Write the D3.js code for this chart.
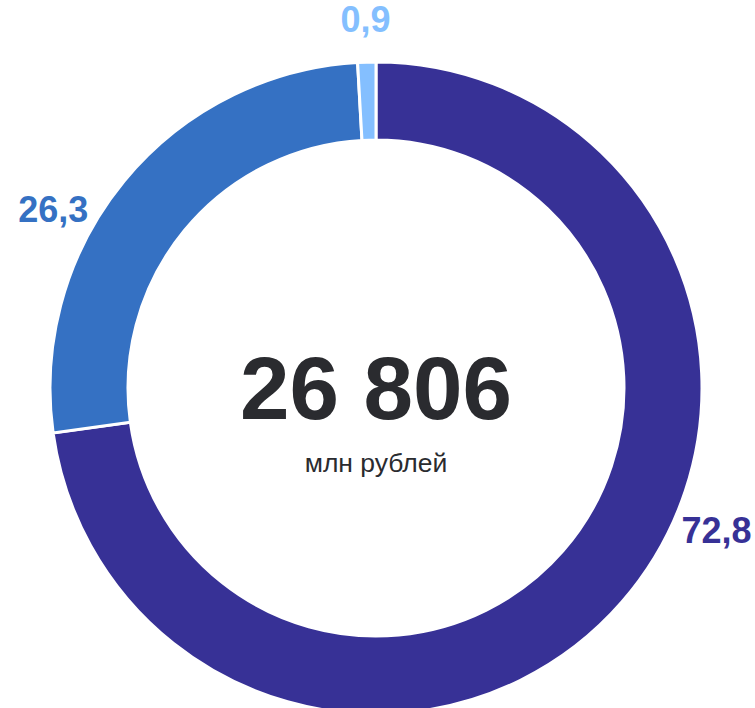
<!DOCTYPE html>
<html>
<head>
<meta charset="utf-8">
<script src="https://cdn.jsdelivr.net/npm/d3@7"></script>
<style>
  html, body { margin: 0; padding: 0; background: #fff; }
  svg { display: block; font-family: "Liberation Sans", Arial, sans-serif; }
</style>
</head>
<body>
<div id="chart"></div>
<script>
// shares, percent
let categories = ['a', 'b', 'c'];
let shares = [72.8, 26.3, 0.9];
let shareLabels = ['72,8', '26,3', '0,9'];
let colors = ['#373196', '#3571c3', '#84bfff'];

let totalText = '26 806';
let unitText = 'млн рублей';

let width = 755;
let height = 708;
let cx = 376;
let cy = 388;
let outerR = 326;
let innerR = 248;
let labelR = 369;
// where along each slice the label sits (0 = start, 1 = end)
let labelAt = [0.43, 0.39, 0.5];

let svg = d3.select('#chart')
    .append('svg')
    .attr('width', width)
    .attr('height', height);

let g = svg.append('g')
    .attr('transform', 'translate(' + cx + ',' + cy + ')');

let pie = d3.pie()
    .sort(null)
    .value(function (d) { return d; });

let arc = d3.arc()
    .innerRadius(innerR)
    .outerRadius(outerR);

let slices = pie(shares);

g.selectAll('path.slice')
    .data(slices)
    .enter()
    .append('path')
    .attr('class', 'slice')
    .attr('d', arc)
    .attr('fill', function (d, i) { return colors[i]; })
    .attr('stroke', '#fff')
    .attr('stroke-width', 3)
    .attr('stroke-linejoin', 'miter');

g.selectAll('text.share')
    .data(slices)
    .enter()
    .append('text')
    .attr('class', 'share')
    .attr('x', function (d, i) {
        let a = d.startAngle + labelAt[i] * (d.endAngle - d.startAngle);
        return labelR * Math.sin(a);
    })
    .attr('y', function (d, i) {
        let a = d.startAngle + labelAt[i] * (d.endAngle - d.startAngle);
        return -labelR * Math.cos(a);
    })
    .attr('dy', '0.36em')
    .attr('text-anchor', 'middle')
    .attr('font-size', 36)
    .attr('font-weight', 'bold')
    .attr('fill', function (d, i) { return colors[i]; })
    .text(function (d, i) { return shareLabels[i]; });

g.append('text')
    .attr('x', 0)
    .attr('y', 31)
    .attr('text-anchor', 'middle')
    .attr('font-size', 89)
    .attr('font-weight', 'bold')
    .attr('fill', '#2a2b2f')
    .text(totalText);

g.append('text')
    .attr('x', 0)
    .attr('y', 84)
    .attr('text-anchor', 'middle')
    .attr('font-size', 26.5)
    .attr('fill', '#2a2b2f')
    .text(unitText);
</script>
</body>
</html>
